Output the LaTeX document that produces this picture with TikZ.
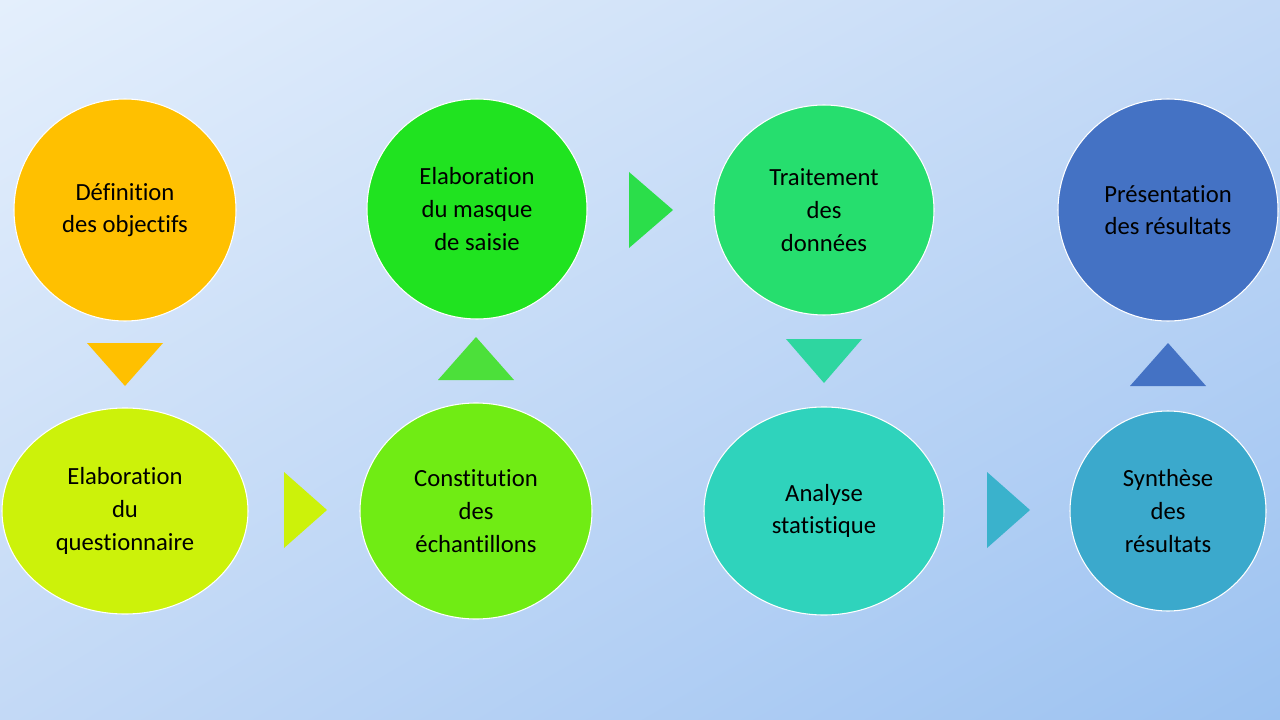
\documentclass[tikz,border=0pt]{standalone}
\usepackage{fontspec}
\setmainfont[Ligatures=CommonOff]{Carlito}
\usetikzlibrary{shapes.geometric,shadings}
\definecolor{bgA}{HTML}{E4EFFC}
\definecolor{bgB}{HTML}{C3D9F6}
\definecolor{bgC}{HTML}{9CC2F1}
\definecolor{cA}{HTML}{FFC000}
\definecolor{cB}{HTML}{CCF20A}
\definecolor{cC}{HTML}{70EC14}
\definecolor{cD}{HTML}{20E320}
\definecolor{cE}{HTML}{26DE6E}
\definecolor{cF}{HTML}{2FD3BC}
\definecolor{cG}{HTML}{3BA9CC}
\definecolor{cH}{HTML}{4472C4}
\definecolor{tA}{HTML}{4CE03A}
\definecolor{tB}{HTML}{2BDE4A}
\definecolor{tC}{HTML}{2ED6A0}
\definecolor{tD}{HTML}{3AB2CC}
\begin{document}
\begin{tikzpicture}[x=0.75pt,y=-0.75pt,
  step ell/.style={ellipse,draw=white,line width=0.8pt,inner sep=0pt,align=center,font=\fontsize{18.5}{24.5}\selectfont,text=black}]
\useasboundingbox (0,0) rectangle (1280,720);
\shade[upper left=bgA,upper right=bgB,lower left=bgB,lower right=bgC] (0,0) rectangle (1280,720);
\node[step ell,fill=cA,minimum width=222*0.75pt,minimum height=222*0.75pt] (a) at (125,210) {Définition\\des objectifs};
\node[step ell,fill=cB,minimum width=246*0.75pt,minimum height=206*0.75pt] (b) at (125,511) {Elaboration\\du\\questionnaire};
\node[step ell,fill=cC,minimum width=232*0.75pt,minimum height=216*0.75pt] (c) at (476,511) {Constitution\\des\\échantillons};
\node[step ell,fill=cD,minimum width=220*0.75pt,minimum height=220*0.75pt] (d) at (477,209) {Elaboration\\du masque\\de saisie};
\node[step ell,fill=cE,minimum width=220*0.75pt,minimum height=210*0.75pt] (e) at (824,210) {Traitement\\des\\données};
\node[step ell,fill=cF,minimum width=240*0.75pt,minimum height=208*0.75pt] (f) at (824,511) {Analyse\\statistique};
\node[step ell,fill=cG,minimum width=196*0.75pt,minimum height=200*0.75pt] (g) at (1168,511) {Synthèse\\des\\résultats};
\node[step ell,fill=cH,minimum width=220*0.75pt,minimum height=222*0.75pt] (h) at (1168,210) {Présentation\\des résultats};
\fill[cA] (87,343) -- (163,343) -- (125,386) -- cycle;
\fill[cB] (284,472) -- (284,548) -- (327,510) -- cycle;
\fill[tA] (438,380) -- (514,380) -- (476,337) -- cycle;
\fill[tB] (629,172) -- (629,248) -- (673,210) -- cycle;
\fill[tC] (786,339) -- (862,339) -- (824,383) -- cycle;
\fill[tD] (987,472) -- (987,548) -- (1030,510) -- cycle;
\fill[cH] (1130,386) -- (1206,386) -- (1168,343) -- cycle;
\end{tikzpicture}
\end{document}
